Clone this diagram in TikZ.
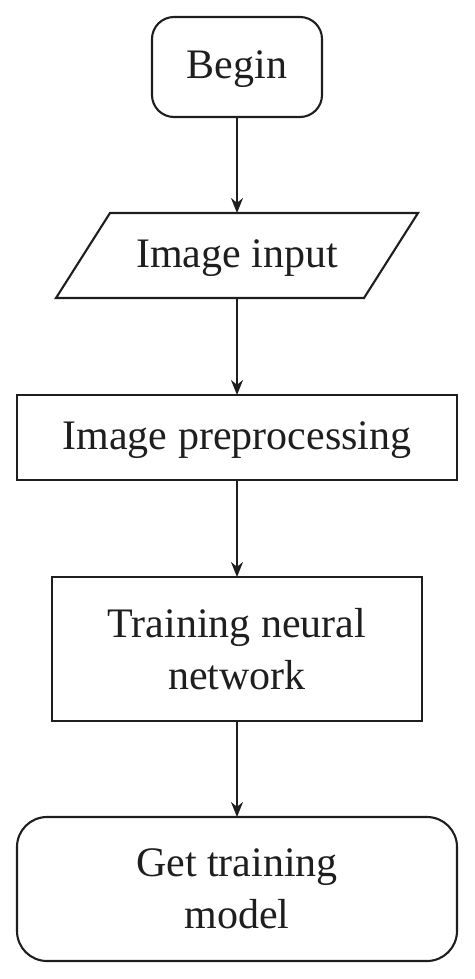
\documentclass[tikz,border=0pt]{standalone}
\usepackage{fontspec}
\setmainfont{Liberation Serif}
\usetikzlibrary{arrows.meta}
\definecolor{ink}{HTML}{1E1E1E}
\begin{document}
\begin{tikzpicture}[x=1pt,y=1pt,
  every node/.style={font=\fontsize{42}{52}\selectfont, text=ink, inner sep=0pt, outer sep=0pt, align=center},
  boxline/.style={draw=ink, line width=2.1pt},
  onel/.style={text height=33pt, text depth=10pt},
  conn/.style={draw=ink, line width=2.1pt, -{Stealth[length=15pt,width=12pt]}}]
\useasboundingbox (0,0) rectangle (474,-979);
\node[boxline, rounded corners=22pt, minimum width=170pt, minimum height=100pt, onel] (begin) at (237,-67) {Begin};
\node[minimum width=362pt, minimum height=85pt, onel] (inp) at (237,-255.5) {Image input};
\draw[boxline] ([xshift=54pt]inp.north west) -- (inp.north east) -- ([xshift=-54pt]inp.south east) -- (inp.south west) -- cycle;
\node[boxline, rounded corners=0pt, minimum width=440pt, minimum height=85pt, onel] (pre) at (237,-437.5) {Image preprocessing};
\node[boxline, minimum width=370pt, minimum height=144pt] (train) at (237,-649) {Training neural\\network};
\node[boxline, rounded corners=30pt, minimum width=440pt, minimum height=144pt] (get) at (237,-889) {Get training\\model};
\draw[conn] (begin.south) -- (inp.north);
\draw[conn] (inp.south) -- (pre.north);
\draw[conn] (pre.south) -- (train.north);
\draw[conn] (train.south) -- (get.north);
\end{tikzpicture}
\end{document}
